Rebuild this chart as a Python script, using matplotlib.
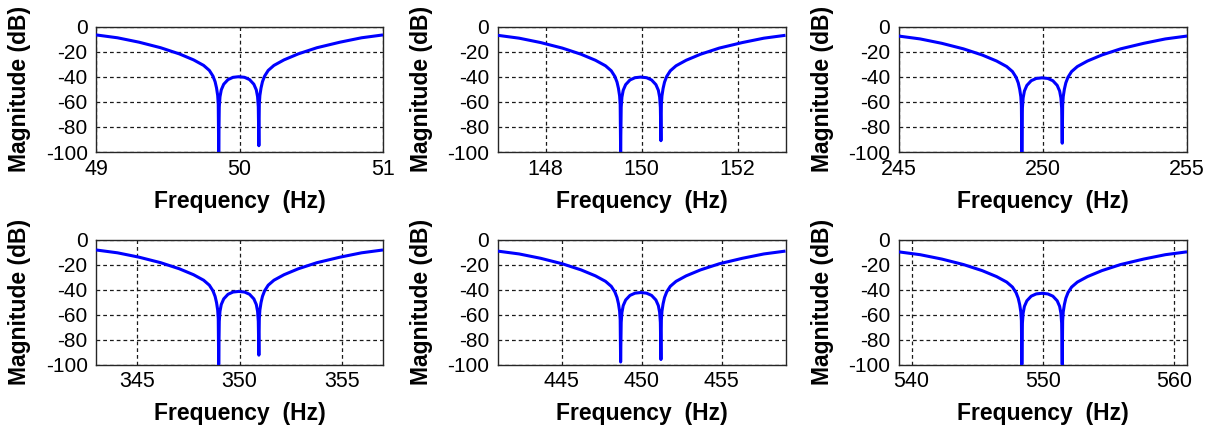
import matplotlib
matplotlib.use('Agg')
import matplotlib.pyplot as plt

plt.rcParams['font.family'] = ['Liberation Sans', 'DejaVu Sans']
plt.rcParams['axes.unicode_minus'] = False

# Magnitude response around each harmonic (frequency in Hz, magnitude in dB)
freq_50 = [49.0, 49.15, 49.3, 49.45, 49.58, 49.68, 49.75, 49.79, 49.815, 49.83, 49.84, 49.848, 49.852,
           49.855,
           49.859, 49.864, 49.873, 49.89, 49.92, 49.955, 49.995,
           50.035, 50.07, 50.10, 50.117, 50.126, 50.131,
           50.135,
           50.138, 50.142, 50.15, 50.16, 50.175, 50.2, 50.24, 50.31, 50.41, 50.54, 50.7, 50.85, 51.0]
mag_50 = [-6.7, -9.0, -12.5, -16.9, -21.8, -26.6, -31.0, -35.0, -39.5, -44.0, -49.0, -55.0, -62.0,
          -100,
          -64.0, -56.0, -50.5, -46.0, -42.3, -40.5, -40.0,
          -40.5, -42.3, -46.0, -50.5, -56.0, -64.0,
          -95,
          -62.0, -55.0, -49.0, -44.0, -39.5, -35.0, -31.0, -26.6, -21.8, -16.9, -12.5, -9.0, -6.7]

freq_150 = [147.0, 147.45, 147.9, 148.35, 148.74, 149.04, 149.25, 149.37, 149.445, 149.49, 149.52, 149.544, 149.556,
            149.565,
            149.577, 149.592, 149.619, 149.67, 149.76, 149.865, 149.985,
            150.105, 150.21, 150.3, 150.351, 150.378, 150.393,
            150.405,
            150.414, 150.426, 150.45, 150.48, 150.525, 150.6, 150.72, 150.93, 151.23, 151.62, 152.1, 152.55, 153.0]
mag_150 = [-7.0, -9.3, -12.8, -17.2, -22.1, -26.9, -31.3, -35.3, -39.8, -44.3, -49.3, -55.3, -62.3,
           -100,
           -64.3, -56.3, -50.8, -46.3, -42.6, -40.8, -40.3,
           -40.8, -42.6, -46.3, -50.8, -56.3, -64.3,
           -91,
           -62.3, -55.3, -49.3, -44.3, -39.8, -35.3, -31.3, -26.9, -22.1, -17.2, -12.8, -9.3, -7.0]

freq_250 = [245.0, 245.75, 246.5, 247.25, 247.9, 248.4, 248.75, 248.95, 249.075, 249.15, 249.2, 249.24, 249.26,
            249.275,
            249.295, 249.32, 249.365, 249.45, 249.6, 249.775, 249.975,
            250.175, 250.35, 250.5, 250.585, 250.63, 250.655,
            250.675,
            250.69, 250.71, 250.75, 250.8, 250.875, 251.0, 251.2, 251.55, 252.05, 252.7, 253.5, 254.25, 255.0]
mag_250 = [-7.6, -9.9, -13.4, -17.8, -22.7, -27.5, -31.9, -35.9, -40.4, -44.9, -49.9, -55.9, -62.9,
           -100,
           -64.9, -56.9, -51.4, -46.9, -43.2, -41.4, -40.9,
           -41.4, -43.2, -46.9, -51.4, -56.9, -64.9,
           -93,
           -62.9, -55.9, -49.9, -44.9, -40.4, -35.9, -31.9, -27.5, -22.7, -17.8, -13.4, -9.9, -7.6]

freq_350 = [343.0, 344.05, 345.1, 346.15, 347.06, 347.76, 348.25, 348.53, 348.705, 348.81, 348.88, 348.936, 348.964,
            348.985,
            349.013, 349.048, 349.111, 349.23, 349.44, 349.685, 349.965,
            350.245, 350.49, 350.7, 350.819, 350.882, 350.917,
            350.945,
            350.966, 350.994, 351.05, 351.12, 351.225, 351.4, 351.68, 352.17, 352.87, 353.78, 354.9, 355.95, 357.0]
mag_350 = [-8.0, -10.3, -13.8, -18.2, -23.1, -27.9, -32.3, -36.3, -40.8, -45.3, -50.3, -56.3, -63.3,
           -100,
           -65.3, -57.3, -51.8, -47.3, -43.6, -41.8, -41.3,
           -41.8, -43.6, -47.3, -51.8, -57.3, -65.3,
           -92.5,
           -63.3, -56.3, -50.3, -45.3, -40.8, -36.3, -32.3, -27.9, -23.1, -18.2, -13.8, -10.3, -8.0]

freq_450 = [441.0, 442.35, 443.7, 445.05, 446.22, 447.12, 447.75, 448.11, 448.335, 448.47, 448.56, 448.632, 448.668,
            448.695,
            448.731, 448.776, 448.857, 449.01, 449.28, 449.595, 449.955,
            450.315, 450.63, 450.9, 451.053, 451.134, 451.179,
            451.215,
            451.242, 451.278, 451.35, 451.44, 451.575, 451.8, 452.16, 452.79, 453.69, 454.86, 456.3, 457.65, 459.0]
mag_450 = [-8.9, -11.2, -14.7, -19.1, -24.0, -28.8, -33.2, -37.2, -41.7, -46.2, -51.2, -57.2, -64.2,
           -98,
           -66.2, -58.2, -52.7, -48.2, -44.5, -42.7, -42.2,
           -42.7, -44.5, -48.2, -52.7, -58.2, -66.2,
           -96,
           -64.2, -57.2, -51.2, -46.2, -41.7, -37.2, -33.2, -28.8, -24.0, -19.1, -14.7, -11.2, -8.9]

freq_550 = [539.0, 540.65, 542.3, 543.95, 545.38, 546.48, 547.25, 547.69, 547.965, 548.13, 548.24, 548.328, 548.372,
            548.405,
            548.449, 548.504, 548.603, 548.79, 549.12, 549.505, 549.945,
            550.385, 550.77, 551.1, 551.287, 551.386, 551.441,
            551.485,
            551.518, 551.562, 551.65, 551.76, 551.925, 552.2, 552.64, 553.41, 554.51, 555.94, 557.7, 559.35, 561.0]
mag_550 = [-9.5, -11.8, -15.3, -19.7, -24.6, -29.4, -33.8, -37.8, -42.3, -46.8, -51.8, -57.8, -64.8,
           -100,
           -66.8, -58.8, -53.3, -48.8, -45.1, -43.3, -42.8,
           -43.3, -45.1, -48.8, -53.3, -58.8, -66.8,
           -100,
           -64.8, -57.8, -51.8, -46.8, -42.3, -37.8, -33.8, -29.4, -24.6, -19.7, -15.3, -11.8, -9.5]

xlims = [(49, 51), (147, 153), (245, 255), (343, 357), (441, 459), (539, 561)]
xticks = [[49, 50, 51], [148, 150, 152], [245, 250, 255],
          [345, 350, 355], [445, 450, 455], [540, 550, 560]]
yticks = [-100, -80, -60, -40, -20, 0]

freqs = [freq_50, freq_150, freq_250, freq_350, freq_450, freq_550]
mags = [mag_50, mag_150, mag_250, mag_350, mag_450, mag_550]

W, H = 1216, 433
fig = plt.figure(figsize=(W / 100, H / 100), dpi=100)

# axes boxes in pixels: (left, right) per column, (top, bottom) per row
col_x = [(96, 383), (497.5, 785.5), (898.5, 1187)]
row_y = [(26.5, 152), (240, 364.5)]

edge = '#262626'
for i in range(6):
    r, c = divmod(i, 3)
    x0, x1 = col_x[c]
    y0, y1 = row_y[r]
    ax = fig.add_axes([x0 / W, 1 - y1 / H, (x1 - x0) / W, (y1 - y0) / H])

    ax.plot(freqs[i], mags[i], color='#0000ff', lw=2.2, solid_capstyle='butt', zorder=3)

    ax.set_xlim(*xlims[i])
    ax.set_ylim(-100, 0)
    ax.set_xticks(xticks[i])
    ax.set_yticks(yticks)
    ax.set_yticklabels([str(v) for v in yticks])

    ax.grid(True, color='#1a1a1a', lw=0.9, linestyle=(0, (3, 2.4)))
    ax.set_axisbelow(True)
    for s in ax.spines.values():
        s.set_color(edge)
        s.set_linewidth(1.0)
    ax.tick_params(direction='in', length=0, colors='black')
    ax.tick_params(axis='x', pad=5, labelsize=15.5)
    ax.tick_params(axis='y', pad=6, labelsize=15)

    ax.set_xlabel('Frequency  (Hz)', fontsize=16.5, fontweight='bold')
    ax.set_ylabel('Magnitude (dB)', fontsize=16.5, fontweight='bold')
    ax.xaxis.set_label_coords(0.5, -0.30)
    ax.yaxis.set_label_coords(-0.225, 0.5)

fig.savefig('out.png', dpi=100)
